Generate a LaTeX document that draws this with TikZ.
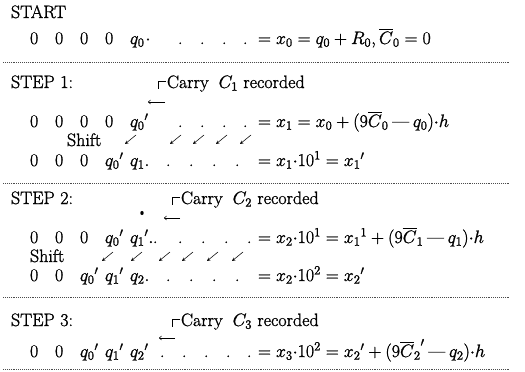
\RequirePackage{fix-cm}
\documentclass[tikz,border=0pt]{standalone}
\usepackage{amsmath}
\usetikzlibrary{arrows.meta}
\newcommand\ldash{\mathbin{\text{---}}}
\begin{document}
\begin{tikzpicture}[x=1pt,y=-1pt,
  t/.style={inner sep=0pt,outer sep=0pt,anchor=base west,font=\fontsize{18}{21}\selectfont},
  dotrule/.style={line width=0.6pt,dash pattern=on 0.6pt off 1.3pt,black!70},
  sh/.style={-{Stealth[length=3.4pt,width=3.4pt]},line width=0.55pt},
  carr/.style={-{To[length=2.8pt,width=4.4pt]},line width=0.55pt},
  brk/.style={line width=0.65pt}
]
\special{pdf:literal direct 2 Tr 0.22 w}
\useasboundingbox (0,0) rectangle (525,372);

% START
\node[t] (start) at (11,18) {START};
\foreach \x [count=\i] in {30,55,80,105} \node[t] (r0z\i) at (\x,44) {0};
\node[t] (r0q) at (130,44) {$q_0\mkern1mu{\cdot}$};
\foreach \x [count=\i] in {178,200,222,243} \node[t] (r0p\i) at (\x,44) {.};
\node[t] (r0e) at (258,44) {$= x_0 = q_0 + R_0, \overline{C}_0 = 0$};
\coordinate (d1a) at (3,62); \coordinate (d1b) at (510,62);
\draw[dotrule] (d1a) -- (d1b);

% STEP 1
\node[t] (st1) at (11,88) {STEP 1:};
\node[t] (c1) at (167,88) {Carry\hspace{0.55em}$C_1$ recorded};
\draw[brk] ([xshift=-1pt,yshift=2pt]c1.west) -| ([xshift=-9pt,yshift=-5pt]c1.west);
\coordinate (a1s) at (165,102); \coordinate (a1e) at (148,102);
\draw[carr] (a1s) -- (a1e);
\foreach \x [count=\i] in {30,55,80,105} \node[t] (r1z\i) at (\x,127) {0};
\node[t] (r1q) at (130,127) {${q_0}'$};
\foreach \x [count=\i] in {178,200,222,243} \node[t] (r1p\i) at (\x,127) {.};
\node[t] (r1e) at (258,127) {$= x_1 = x_0 + (9\overline{C}_0 \ldash q_0){\cdot}h$};
\node[t] (sh1) at (67,146) {Shift};
\foreach \x [count=\i] in {125,170,193,216,240} {
  \coordinate (s1a\i) at (\x+11,135);
  \coordinate (s1b\i) at (\x,144);
  \draw[sh] (s1a\i) -- (s1b\i);
}
\foreach \x [count=\i] in {30,55,80} \node[t] (r2z\i) at (\x,166) {0};
\node[t] (r2q0) at (105,166) {${q_0}'$};
\node[t] (r2q1) at (130,166) {$q_1.$};
\foreach \x [count=\i] in {166,189,212,235} \node[t] (r2p\i) at (\x,166) {.};
\node[t] (r2e) at (258,166) {$= x_1{\cdot}10^1 = {x_1}'$};
\coordinate (d2a) at (3,183); \coordinate (d2b) at (510,183);
\draw[dotrule] (d2a) -- (d2b);

% STEP 2
\node[t] (st2) at (11,204) {STEP 2:};
\node[t] (c2) at (181,204) {Carry\hspace{0.55em}$C_2$ recorded};
\draw[brk] ([xshift=-1pt,yshift=2pt]c2.west) -| ([xshift=-9pt,yshift=-5pt]c2.west);
\fill (142,213) ellipse (1.7pt and 2.1pt);
\coordinate (a2s) at (180,218); \coordinate (a2e) at (164,218);
\draw[carr] (a2s) -- (a2e);
\foreach \x [count=\i] in {30,55,80} \node[t] (r3z\i) at (\x,243) {0};
\node[t] (r3q0) at (105,243) {${q_0}'$};
\node[t] (r3q1) at (130,243) {${q_1}'.$};
\foreach \x [count=\i] in {153,178,201,224,247} \node[t] (r3p\i) at (\x,243) {.};
\node[t] (r3e) at (258,243) {$= x_2{\cdot}10^1 = {x_1}^1 + (9\overline{C}_1 \ldash q_1){\cdot}h$};
\node[t] (sh2) at (30,262) {Shift};
\foreach \x [count=\i] in {102,131,159,182,207,232} {
  \coordinate (s2a\i) at (\x+11,252);
  \coordinate (s2b\i) at (\x,261);
  \draw[sh] (s2a\i) -- (s2b\i);
}
\foreach \x [count=\i] in {30,55} \node[t] (r4z\i) at (\x,281) {0};
\node[t] (r4q0) at (80,281) {${q_0}'$};
\node[t] (r4q1) at (105,281) {${q_1}'$};
\node[t] (r4q2) at (130,281) {$q_2.$};
\foreach \x [count=\i] in {166,189,212,235} \node[t] (r4p\i) at (\x,281) {.};
\node[t] (r4e) at (258,281) {$= x_2{\cdot}10^2 = {x_2}'$};
\coordinate (d3a) at (3,297); \coordinate (d3b) at (510,297);
\draw[dotrule] (d3a) -- (d3b);

% STEP 3
\node[t] (st3) at (11,326) {STEP 3:};
\node[t] (c3) at (181,326) {Carry\hspace{0.55em}$C_3$ recorded};
\draw[brk] ([xshift=-1pt,yshift=2pt]c3.west) -| ([xshift=-9pt,yshift=-5pt]c3.west);
\coordinate (a3s) at (175,338); \coordinate (a3e) at (159,338);
\draw[carr] (a3s) -- (a3e);
\foreach \x [count=\i] in {30,55} \node[t] (r5z\i) at (\x,357) {0};
\node[t] (r5q0) at (80,357) {${q_0}'$};
\node[t] (r5q1) at (105,357) {${q_1}'$};
\node[t] (r5q2) at (130,357) {${q_2}'$};
\foreach \x [count=\i] in {160,182,204,226,247} \node[t] (r5p\i) at (\x,357) {.};
\node[t] (r5e) at (258,357) {$= x_3{\cdot}10^2 = {x_2}' + (9{\overline{C}_2}' \ldash q_2){\cdot}h$};
\coordinate (d4a) at (3,369); \coordinate (d4b) at (510,369);
\draw[dotrule] (d4a) -- (d4b);
\end{tikzpicture}
\end{document}
